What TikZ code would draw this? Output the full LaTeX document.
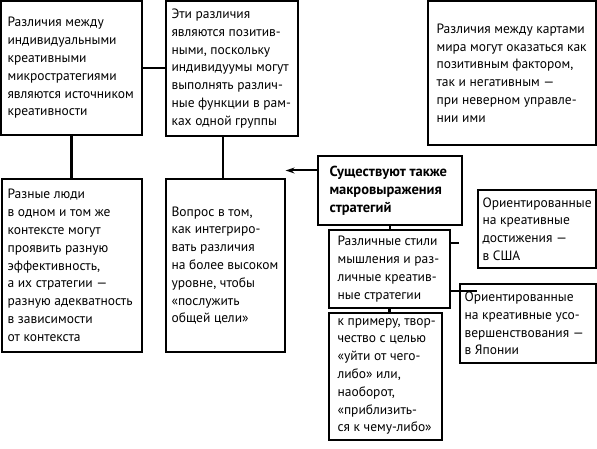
\documentclass[tikz,border=0pt]{standalone}
\usepackage{fontspec}
\setmainfont{PT Sans}
\usetikzlibrary{arrows.meta}
\begin{document}
\begin{tikzpicture}[x=1pt,y=-1pt,
  panel/.style={draw, line width=1.3pt, inner sep=0pt, anchor=center},
  txt/.style={align=left, inner sep=0pt, anchor=west,
    font=\fontsize{13.5}{17.8}\selectfont},
  boldtxt/.style={txt, font=\fontsize{14.5}{17.8}\selectfont\bfseries},
  link/.style={line width=2.2pt},
  arrowlink/.style={line width=2pt, -{Stealth[length=9pt,width=6pt]}}]
\useasboundingbox (0,0) rectangle (597,449);

\node[panel, minimum width=141pt, minimum height=134pt] (A) at (71.5,68) {};
\node[txt] (At) at ([xshift=7pt]A.west)
 {Различия между\\индивидуальными\\креативными\\микростратегиями\\являются источником\\креативности};
\node[panel, minimum width=132pt, minimum height=135pt] (B) at (232,68.5) {};
\node[txt] (Bt) at ([xshift=6pt]B.west)
 {Эти различия\\являются позитив-\\ными, поскольку\\индивидуумы могут\\выполнять различ-\\ные функции в рам-\\ках одной группы};
\node[panel, minimum width=168pt, minimum height=144pt] (E) at (512,73) {};
\node[txt] (Et) at ([xshift=9pt]E.west)
 {Различия между картами\\мира могут оказаться как\\позитивным фактором,\\так и негативным —\\при неверном управле-\\нии ими};
\node[panel, minimum width=140pt, minimum height=173pt] (C) at (72,265.5) {};
\node[txt] (Ct) at ([xshift=6pt]C.west)
 {Разные люди\\в одном и том же\\контексте могут\\проявить разную\\эффективность,\\а их стратегии —\\разную адекватность\\в зависимости\\от контекста};
\node[panel, minimum width=119pt, minimum height=173pt] (D) at (225.5,265.5) {};
\node[txt] (Dt) at ([xshift=6pt]D.west)
 {Вопрос в том,\\как интегриро-\\вать различия\\на более высоком\\уровне, чтобы\\«послужить\\общей цели»};
\node[panel, minimum width=144pt, minimum height=69pt] (F) at (390,190.5) {};
\node[boldtxt] (Ft) at ([xshift=12pt]F.west)
 {Существуют также\\макровыражения\\стратегий};
\node[panel, minimum width=121pt, minimum height=78pt] (G) at (389.5,269) {};
\node[txt] (Gt) at ([xshift=9pt]G.west)
 {Различные стили\\мышления и раз-\\личные креатив-\\ные стратегии};
\node[panel, minimum width=118pt, minimum height=78pt] (H) at (537,229) {};
\node[txt] (Ht) at ([xshift=5pt]H.west)
 {Ориентированные\\на креативные\\достижения —\\в США};
\node[panel, minimum width=136pt, minimum height=79pt] (I) at (528,323.5) {};
\node[txt] (It) at ([xshift=5pt]I.west)
 {Ориентированные\\на креативные усо-\\вершенствования —\\в Японии};
\node[panel, minimum width=113pt, minimum height=127pt] (J) at (385.5,376.5) {};
\node[txt] (Jt) at ([xshift=9pt]J.west)
 {к примеру, твор-\\чество с целью\\«уйти от чего-\\либо» или,\\наоборот,\\«приблизить-\\ся к чему-либо»};

\draw[link] (A.east) -- (A.east -| B.west);
\draw[link] (A.south) -- (A.south |- C.north);
\draw[link] ([xshift=-9pt]B.south) -- ([xshift=-9pt]B.south |- D.north);
\draw[arrowlink] ([yshift=20pt]F.west) -- ([yshift=20pt]F.west -| D.east);
\draw[link] (F.south) -- (F.south |- G.north);
\draw[link] ([yshift=-22pt]G.east) -- ([yshift=-22pt]G.east -| H.west);
\draw[link] ([yshift=26pt]G.east) -- ([yshift=26pt]G.east -| I.west);
\draw[link] (G.south) -- (G.south |- J.north);
\end{tikzpicture}
\end{document}
